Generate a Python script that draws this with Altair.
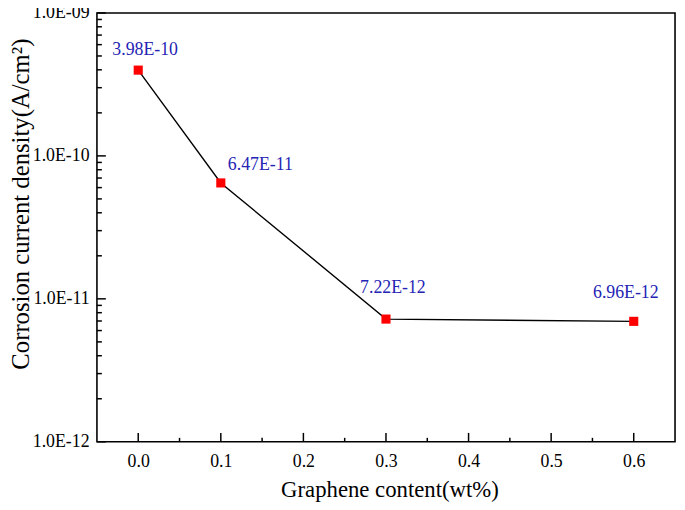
import altair as alt
import pandas as pd

# data
content = [0.0, 0.1, 0.3, 0.6]
density = [3.98e-10, 6.47e-11, 7.22e-12, 6.96e-12]
labels = ["3.98E-10", "6.47E-11", "7.22E-12", "6.96E-12"]

x_major = [0.0, 0.1, 0.2, 0.3, 0.4, 0.5, 0.6]
x_minor = [0.05, 0.15, 0.25, 0.35, 0.45, 0.55]
y_major = [1e-12, 1e-11, 1e-10, 1e-9]
y_minor = [k * 10.0 ** d for d in (-12, -11, -10) for k in range(2, 10)]

df = pd.DataFrame({"x": content, "y": density, "label": labels})

FONT = "Liberation Serif"
BLUE = "#2424b4"
W, H = 585, 434

xscale = alt.Scale(domain=[-0.05, 0.65], nice=False, zero=False)
yscale = alt.Scale(type="log", domain=[1e-12, 1e-9], nice=False)

XAX = alt.Axis(
    orient="bottom", values=x_major, format=".1f", grid=False, ticks=False, domain=False,
    labelFont=FONT, labelFontSize=18, labelColor="black", labelPadding=11,
    title="Graphene content(wt%)", titleFont=FONT, titleFontSize=23,
    titleFontWeight="normal", titleColor="black",
    titleX=296, titleY=48, titleBaseline="middle", titleAlign="center")
YAX = alt.Axis(
    orient="left", values=y_major, grid=False, ticks=False, domain=False,
    labelExpr="'1.0E-' + (round(-log(datum.value)/LN10) < 10 ? '0' : '') + round(-log(datum.value)/LN10)",
    labelFont=FONT, labelFontSize=18, labelColor="black", labelPadding=8,
    title="Corrosion current density(A/cm²)", titleFont=FONT, titleFontSize=25,
    titleFontWeight="normal", titleColor="black", titleAngle=270,
    titleX=-77, titleY=193, titleBaseline="middle", titleAlign="center")

X = alt.X("x:Q", scale=xscale, axis=XAX)
Y = alt.Y("y:Q", scale=yscale, axis=YAX)

base = alt.Chart(df)

line = base.mark_line(color="black", strokeWidth=1.4).encode(x=X, y=Y)
points = base.mark_square(color="red", size=85, opacity=1).encode(x=X, y=Y)

# inward axis ticks drawn as stroked symbol paths, placed through the same scales
def xticks(vals, length):
    return alt.Chart(pd.DataFrame({"x": vals})).mark_point(
        shape="M0,0L0,-1", size=(2 * length) ** 2, filled=False,
        color="black", strokeWidth=1.5, opacity=1
    ).encode(x=X, y=alt.value(H))

def yticks(vals, length):
    return alt.Chart(pd.DataFrame({"y": vals})).mark_point(
        shape="M0,0L1,0", size=(2 * length) ** 2, filled=False,
        color="black", strokeWidth=1.5, opacity=1
    ).encode(y=Y, x=alt.value(0))

ticks = [xticks(x_major, 9), xticks(x_minor, 4), yticks(y_major, 9), yticks(y_minor, 5)]

offsets = [(7, -20), (40, -18), (7, -31), (-8, -29)]
texts = []
for lab, (dx, dy) in zip(labels, offsets):
    texts.append(
        base.transform_filter(alt.datum.label == lab).mark_text(
            font=FONT, fontSize=18, color=BLUE, dx=dx, dy=dy, baseline="middle", align="center"
        ).encode(x=X, y=Y, text="label:N")
    )

chart = alt.layer(line, *ticks, points, *texts).properties(
    width=W, height=H,
    autosize=alt.AutoSizeParams(type="none"),
    padding={"left": 90, "top": 2, "right": 2, "bottom": 64},
    background="white",
).configure_view(stroke="black", strokeWidth=1.6)

chart.save("out.html", embed_options={"renderer": "svg", "actions": False})
